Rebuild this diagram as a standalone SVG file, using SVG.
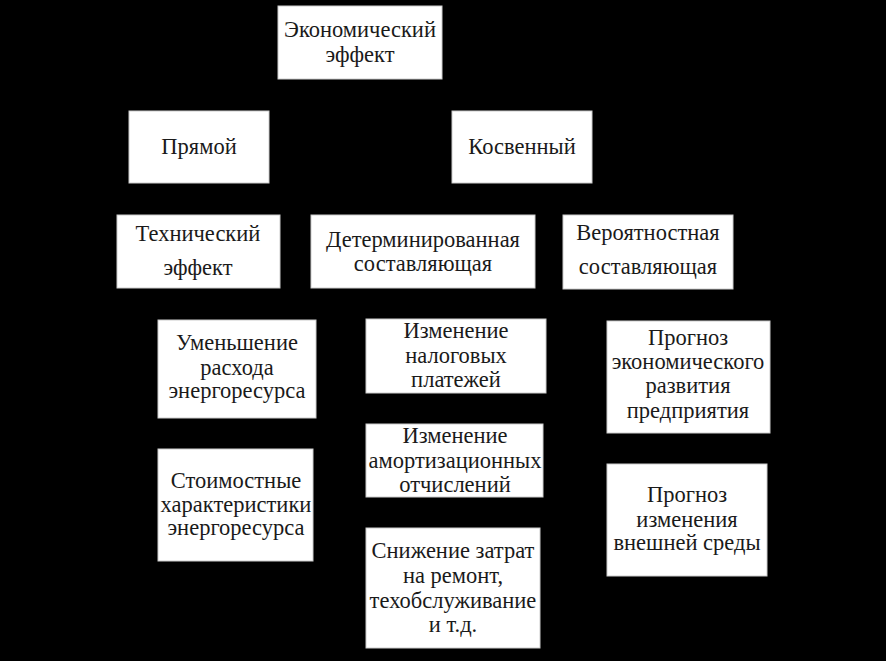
<svg xmlns="http://www.w3.org/2000/svg" width="886" height="661" viewBox="0 0 886 661">
<style>
.bg{fill:#000}
.box{fill:#fff;stroke:#ccc;stroke-width:1}
.t text{font-size:22.5px;fill:#1a1a1a;text-anchor:middle}
</style>
<rect class="bg" x="0" y="0" width="886" height="661"/>
<g id="connectors"></g>
<g class="t" font-family="'Liberation Serif', 'Times New Roman', serif">
<g id="n-econ"><rect class="box" x="278" y="6" width="164" height="73"/><text x="360" y="37">Экономический</text><text x="360" y="62">эффект</text></g>
<g id="n-direct"><rect class="box" x="129" y="111" width="140" height="72"/><text x="199" y="154">Прямой</text></g>
<g id="n-indirect"><rect class="box" x="452" y="111" width="140" height="72"/><text x="522" y="154">Косвенный</text></g>
<g id="n-tech"><rect class="box" x="117" y="215" width="163" height="73"/><text x="198" y="241">Технический</text><text x="198" y="275">эффект</text></g>
<g id="n-determ"><rect class="box" x="311" y="215" width="224" height="73"/><text x="423" y="247">Детерминированная</text><text x="423" y="271">составляющая</text></g>
<g id="n-prob"><rect class="box" x="563" y="215" width="170" height="74"/><text x="648" y="240">Вероятностная</text><text x="648" y="274">составляющая</text></g>
<g id="n-reduce"><rect class="box" x="158" y="320" width="158" height="98"/><text x="237" y="350">Уменьшение</text><text x="237" y="375">расхода</text><text x="237" y="398">энергоресурса</text></g>
<g id="n-tax"><rect class="box" x="366" y="319" width="180" height="74"/><text x="456" y="338">Изменение</text><text x="456" y="363">налоговых</text><text x="456" y="387">платежей</text></g>
<g id="n-forecast1"><rect class="box" x="607" y="321" width="163" height="112"/><text x="688" y="345">Прогноз</text><text x="688" y="369">экономического</text><text x="688" y="393">развития</text><text x="688" y="418">предприятия</text></g>
<g id="n-cost"><rect class="box" x="158" y="449" width="155" height="112"/><text x="236" y="488">Стоимостные</text><text x="236" y="512">характеристики</text><text x="236" y="535">энергоресурса</text></g>
<g id="n-amort"><rect class="box" x="366" y="424" width="177" height="73"/><text x="455" y="443">Изменение</text><text x="455" y="468">амортизационных</text><text x="455" y="492">отчислений</text></g>
<g id="n-forecast2"><rect class="box" x="607" y="464" width="160" height="112"/><text x="687" y="502">Прогноз</text><text x="687" y="527">изменения</text><text x="687" y="550">внешней среды</text></g>
<g id="n-repair"><rect class="box" x="366" y="528" width="174" height="120"/><text x="453" y="558">Снижение затрат</text><text x="453" y="583">на ремонт,</text><text x="453" y="608">техобслуживание</text><text x="453" y="632">и т.д.</text></g>
</g>
</svg>
